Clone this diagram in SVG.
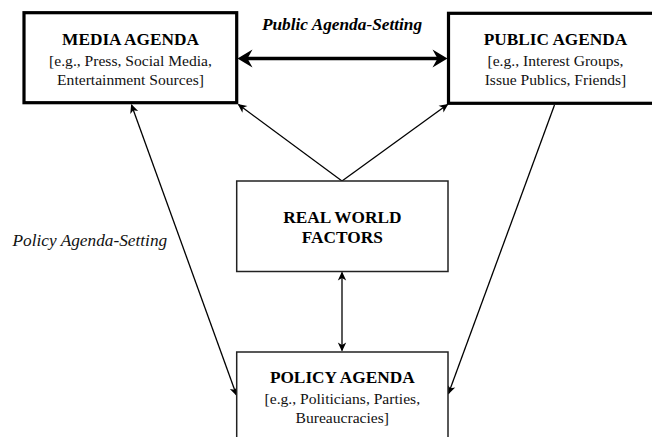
<svg xmlns="http://www.w3.org/2000/svg" width="652" height="437" viewBox="0 0 652 437">
  <style>
    .bg { fill: #ffffff; }
    .box-thick { fill: #ffffff; stroke: #000000; stroke-width: 3.2; }
    .box-thin { fill: #ffffff; stroke: #222222; stroke-width: 1.5; }
    .title { font-family: "Liberation Serif", "Times New Roman", serif; font-weight: bold; font-size: 17.3px; fill: #000000; text-anchor: middle; }
    .sub { font-family: "Liberation Serif", "Times New Roman", serif; font-size: 15.6px; fill: #111111; text-anchor: middle; }
    .label-bi { font-family: "Liberation Serif", "Times New Roman", serif; font-weight: bold; font-style: italic; font-size: 17.3px; fill: #000000; text-anchor: middle; }
    .label-i { font-family: "Liberation Serif", "Times New Roman", serif; font-style: italic; font-size: 17.3px; fill: #111111; }
    .conn-thin { fill: none; stroke: #000000; stroke-width: 1.3; }
    .conn-thick { fill: none; stroke: #000000; stroke-width: 3.6; }
  </style>
  <defs>
    <marker id="headThin" viewBox="-12 -6 14 12" refX="0" refY="0" markerWidth="14" markerHeight="12" markerUnits="userSpaceOnUse" orient="auto-start-reverse">
      <path d="M1,0 L-8,-4.2 L-5.5,0 L-8,4.2 Z" fill="#000000"/>
    </marker>
    <marker id="headThick" viewBox="-16 -10 24 20" refX="0" refY="0" markerWidth="24" markerHeight="20" markerUnits="userSpaceOnUse" orient="auto-start-reverse">
      <path d="M6,0 L-9,-9 L-4,0 L-9,9 Z" fill="#000000"/>
    </marker>
  </defs>

  <rect class="bg" x="0" y="0" width="652" height="437"/>

  <!-- connectors -->
  <g id="connectors">
    <line class="conn-thick" x1="243.5" y1="58.5" x2="441.5" y2="58.5" marker-start="url(#headThick)" marker-end="url(#headThick)"/>
    <line class="conn-thin" x1="342" y1="181" x2="238.5" y2="104.5" marker-end="url(#headThin)"/>
    <line class="conn-thin" x1="342" y1="181" x2="447.5" y2="104.5" marker-end="url(#headThin)"/>
    <line class="conn-thin" x1="342" y1="272.5" x2="342" y2="350.5" marker-start="url(#headThin)" marker-end="url(#headThin)"/>
    <line class="conn-thin" x1="131.5" y1="105" x2="236.5" y2="395" marker-start="url(#headThin)" marker-end="url(#headThin)"/>
    <line class="conn-thin" x1="554.5" y1="105" x2="448.5" y2="393.5" marker-end="url(#headThin)"/>
  </g>

  <text class="label-bi" x="342" y="30">Public Agenda-Setting</text>
  <text class="label-i" x="12.5" y="246">Policy Agenda-Setting</text>

  <g id="media-agenda">
    <rect class="box-thick" x="24" y="12.7" width="212.7" height="90"/>
    <text class="title" x="130.5" y="44.5">MEDIA AGENDA</text>
    <text class="sub" x="130.5" y="65.8">[e.g., Press, Social Media,</text>
    <text class="sub" x="130.5" y="84.5">Entertainment Sources]</text>
  </g>

  <g id="public-agenda">
    <rect class="box-thick" x="448.5" y="13.3" width="214" height="90"/>
    <text class="title" x="555.5" y="44.5">PUBLIC AGENDA</text>
    <text class="sub" x="555.5" y="66.3">[e.g., Interest Groups,</text>
    <text class="sub" x="555.5" y="85.2">Issue Publics, Friends]</text>
  </g>

  <g id="real-world-factors">
    <rect class="box-thin" x="236.7" y="181" width="211.3" height="90.5"/>
    <text class="title" x="342.3" y="222.7">REAL WORLD</text>
    <text class="title" x="342.3" y="243.3">FACTORS</text>
  </g>

  <g id="policy-agenda">
    <rect class="box-thin" x="236.7" y="352" width="211.3" height="100"/>
    <text class="title" x="342.3" y="382.7">POLICY AGENDA</text>
    <text class="sub" x="342.3" y="404">[e.g., Politicians, Parties,</text>
    <text class="sub" x="342.3" y="423">Bureaucracies]</text>
  </g>
</svg>
